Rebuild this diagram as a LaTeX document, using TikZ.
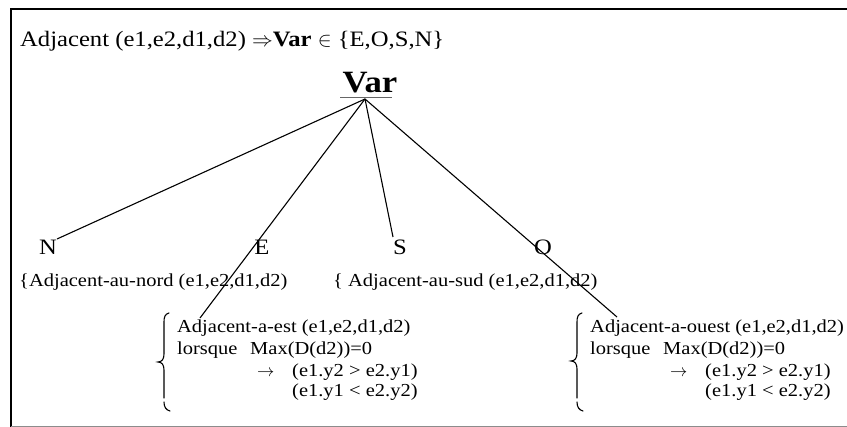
\documentclass[tikz,border=0pt]{standalone}
\usepackage{fontspec}
\setmainfont[FakeStretch=1.12]{Liberation Serif}
\begin{document}
\begin{tikzpicture}[x=1pt,y=-1pt,
  txt/.style={anchor=base west,inner sep=0pt,font=\fontsize{18.3}{20}\selectfont},
  lbl/.style={anchor=base,inner sep=0pt,font=\fontsize{22}{24}\selectfont},
  conn/.style={line width=1.1pt},
  bigbrace/.style={line width=1.1pt,line cap=round}]
\useasboundingbox (0,0) rectangle (847,427);
% frame
\draw[line width=2pt] (847,9) -- (11,9) -- (11,427);
\draw[line width=0.8pt,black!45] (11,426) -- (847,426);
% title
\node[anchor=base west,inner sep=0pt,font=\fontsize{22}{24}\selectfont] (title) at (20,47)
  {Adjacent (e1,e2,d1,d2) $\Rightarrow$\textbf{Var} $\in$ \{E,O,S,N\}};
% Var
\node[anchor=base,inner sep=0pt,font=\bfseries\fontsize{31}{34}\selectfont] (var) at (370,93) {Var};
\draw[line width=0.8pt,black!60] (340,97) -- (392,97);
\coordinate (root) at (365,99);
% letters
\node[lbl] (N) at (48,255) {N};
\node[lbl] (E) at (262,255) {E};
\node[lbl] (S) at (400,255) {S};
\node[lbl] (O) at (543,255) {O};
% connectors
\coordinate (nEnd) at (57,239);
\coordinate (eEnd) at (200,318);
\coordinate (sEnd) at (393,237);
\coordinate (oEnd) at (617,317);
\draw[conn] (root) -- (nEnd);
\draw[conn] (root) -- (eEnd);
\draw[conn] (root) -- (sEnd);
\draw[conn] (root) -- (oEnd);
% nord / sud
\node[txt] (nord) at (19,287) {\{Adjacent-au-nord (e1,e2,d1,d2)};
\node[txt] (sud) at (333,287) {\{ Adjacent-au-sud (e1,e2,d1,d2)};
% E block
\draw[bigbrace] (169,313) .. controls (165,314) and (164,317) .. (164,322) -- (164,354)
  .. controls (164,359) and (162,362) .. (158,362) .. controls (162,362) and (164,365) .. (164,370)
  -- (164,398);
\draw[bigbrace] (164,402) .. controls (164,407) and (166,410) .. (170,411);
\node[txt] (e1) at (177,333) {Adjacent-a-est (e1,e2,d1,d2)};
\node[txt] (e2a) at (177,355) {lorsque};
\node[txt] (e2b) at (250,355) {Max(D(d2))=0};
\node[txt] (e3a) at (257,377) {$\rightarrow$};
\node[txt] (e3b) at (292,377) {(e1.y2 > e2.y1)};
\node[txt] (e4) at (292,397) {(e1.y1 < e2.y2)};
% O block
\draw[bigbrace] (582,313) .. controls (578,314) and (577,317) .. (577,322) -- (577,353)
  .. controls (577,358) and (575,361) .. (571,361) .. controls (575,361) and (577,364) .. (577,369)
  -- (577,398);
\draw[bigbrace] (577,402) .. controls (577,407) and (579,410) .. (583,411);
\node[txt] (o1) at (590,333) {Adjacent-a-ouest (e1,e2,d1,d2)};
\node[txt] (o2a) at (590,355) {lorsque};
\node[txt] (o2b) at (663,355) {Max(D(d2))=0};
\node[txt] (o3a) at (670,377) {$\rightarrow$};
\node[txt] (o3b) at (705,377) {(e1.y2 > e2.y1)};
\node[txt] (o4) at (705,397) {(e1.y1 < e2.y2)};
\end{tikzpicture}
\end{document}
